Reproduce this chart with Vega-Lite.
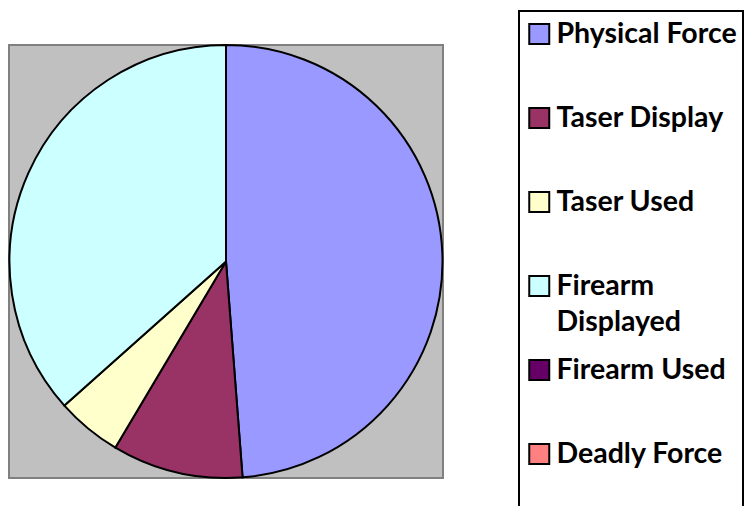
{
  "$schema": "https://vega.github.io/schema/vega-lite/v6.json",
  "autosize": {"type": "pad"},
  "padding": {"top": 10, "left": 5, "right": 0, "bottom": 0},
  "background": "white",
  "width": 434,
  "height": 433,
  "layer": [
    {
      "data": {"values": [{"panel": "plot"}]},
      "mark": {"type": "rect", "fill": "#C0C0C0", "stroke": "#808080", "strokeWidth": 2},
      "encoding": {}
    },
    {
      "data": {
        "values": [
          {"category": "Physical Force", "label": "Physical Force", "count": 20, "order": 1},
          {"category": "Taser Display", "label": "Taser Display", "count": 4, "order": 2},
          {"category": "Taser Used", "label": "Taser Used", "count": 2, "order": 3},
          {"category": "Firearm Displayed", "label": "Firearm Displayed", "count": 15, "order": 4},
          {"category": "Firearm Used", "label": "Firearm Used", "count": 0, "order": 5},
          {"category": "Deadly Force", "label": "Deadly Force", "count": 0, "order": 6}
        ]
      },
      "mark": {"type": "arc", "outerRadius": 216.5, "stroke": "black", "strokeWidth": 2, "strokeJoin": "miter"},
      "encoding": {
        "theta": {"field": "count", "type": "quantitative", "stack": true},
        "order": {"field": "order", "type": "quantitative"},
        "color": {
          "field": "category",
          "type": "nominal",
          "scale": {
            "domain": ["Physical Force", "Taser Display", "Taser Used", "Firearm Displayed", "Firearm Used", "Deadly Force"],
            "range": ["#9999FF", "#993366", "#FFFFCC", "#CCFFFF", "#660066", "#FF8080"]
          },
          "legend": {
            "title": null,
            "orient": "none",
            "legendX": 510,
            "legendY": -34,
            "padding": 6,
            "strokeColor": "black",
            "fillColor": "white",
            "symbolType": "square",
            "symbolSize": 400,
            "symbolStrokeColor": "black",
            "symbolStrokeWidth": 2,
            "symbolOpacity": 1,
            "labelFont": "Lato",
            "labelFontWeight": "bold",
            "labelFontSize": 28.5,
            "labelColor": "black",
            "labelLimit": 300,
            "labelOffset": 3,
            "clipHeight": 34,
            "labelExpr": "datum.label == 'Firearm Displayed' ? ['Firearm', 'Displayed'] : [datum.label, '']",
            "rowPadding": 16
          }
        }
      }
    }
  ],
  "config": {
    "view": {"stroke": null},
    "legend": {"strokeWidth": 2},
    "style": {"guide-label": {"lineHeight": 36}}
  }
}
